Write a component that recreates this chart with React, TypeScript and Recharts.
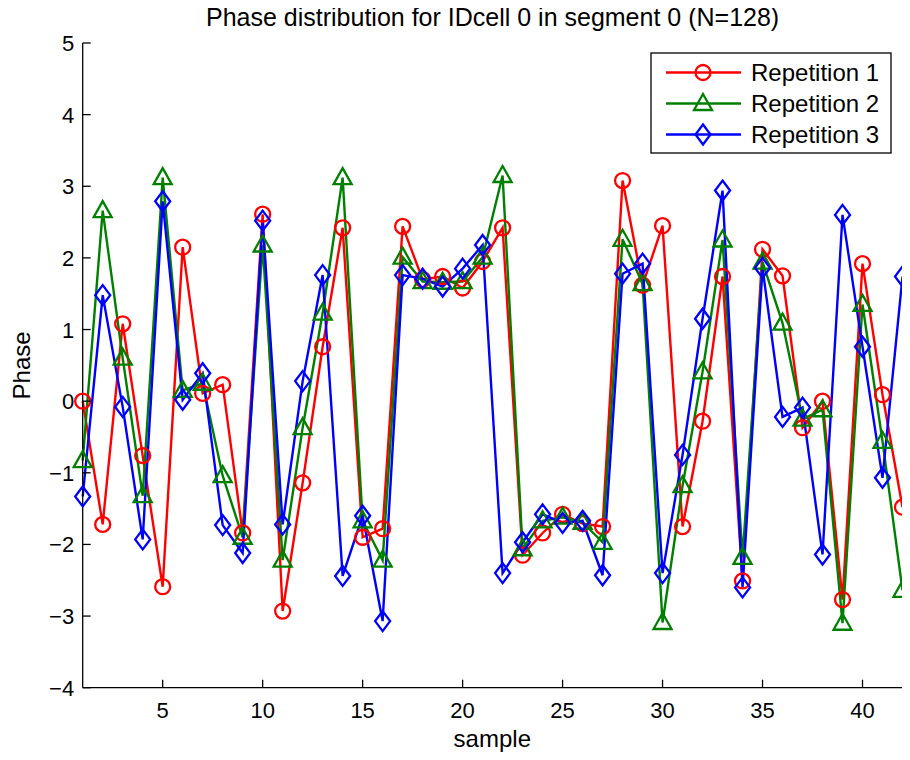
import React from 'react';
import { LineChart, Line, XAxis, YAxis, Label } from 'recharts';

const samples = [1, 2, 3, 4, 5, 6, 7, 8, 9, 10, 11, 12, 13, 14, 15, 16, 17, 18, 19, 20, 21, 22, 23, 24, 25, 26, 27, 28, 29, 30, 31, 32, 33, 34, 35, 36, 37, 38, 39, 40, 41, 42];
const repetition1 = [0.0, -1.72, 1.08, -0.76, -2.59, 2.15, 0.11, 0.23, -1.84, 2.61, -2.93, -1.14, 0.76, 2.42, -1.9, -1.78, 2.44, 1.7, 1.74, 1.58, 1.95, 2.42, -2.15, -1.84, -1.58, -1.71, -1.75, 3.08, 1.62, 2.45, -1.75, -0.28, 1.74, -2.51, 2.12, 1.75, -0.37, 0.0, -2.77, 1.92, 0.09, -1.48];
const repetition2 = [-0.83, 2.66, 0.6, -1.32, 3.12, 0.15, 0.25, -1.04, -1.9, 2.18, -2.22, -0.37, 1.23, 3.12, -1.67, -2.22, 2.01, 1.67, 1.66, 1.67, 2.01, 3.15, -2.06, -1.67, -1.62, -1.69, -1.97, 2.26, 1.64, -3.09, -1.18, 0.41, 2.25, -2.18, 1.94, 1.09, -0.25, -0.12, -3.1, 1.35, -0.56, -2.64];
const repetition3 = [-1.33, 1.48, -0.08, -1.93, 2.79, 0.02, 0.39, -1.73, -2.12, 2.52, -1.72, 0.28, 1.76, -2.44, -1.6, -3.07, 1.76, 1.71, 1.6, 1.85, 2.18, -2.4, -1.97, -1.58, -1.7, -1.67, -2.43, 1.78, 1.92, -2.4, -0.75, 1.15, 2.94, -2.6, 1.86, -0.22, -0.09, -2.14, 2.6, 0.76, -1.07, 1.74];
const seriesNames = ['Repetition 1', 'Repetition 2', 'Repetition 3'];
const seriesColors = ['#ff0000', '#008000', '#0000ff'];
const xTicks = [5, 10, 15, 20, 25, 30, 35, 40];
const yTicks = [-4, -3, -2, -1, 0, 1, 2, 3, 4, 5];
const titleText = 'Phase distribution for IDcell 0 in segment 0 (N=128)';
const xLabel = 'sample';
const yLabel = 'Phase';

const data = samples.map((s, i) => ({ sample: s, r1: repetition1[i], r2: repetition2[i], r3: repetition3[i] }));

const FONT = '"Liberation Sans", Arial, Helvetica, sans-serif';

const Marker = ({ kind, cx, cy, color }: { kind: number; cx: number; cy: number; color: string }) => {
  if (kind === 0) return <circle cx={cx} cy={cy} r={7.5} fill="none" stroke={color} strokeWidth={2.3} />;
  if (kind === 1)
    return (
      <polygon
        points={`${cx},${cy - 9.5} ${cx - 9},${cy + 6.5} ${cx + 9},${cy + 6.5}`}
        fill="none"
        stroke={color}
        strokeWidth={2.3}
      />
    );
  return (
    <polygon
      points={`${cx},${cy - 10} ${cx + 7.5},${cy} ${cx},${cy + 10} ${cx - 7.5},${cy}`}
      fill="none"
      stroke={color}
      strokeWidth={2.3}
    />
  );
};

const makeDot = (kind: number) => (p: any) => {
  if (p.cx == null || p.cy == null) return <g key={`d${kind}-${p.index}`} />;
  return (
    <g key={`d${kind}-${p.index}`}>
      <Marker kind={kind} cx={p.cx} cy={p.cy} color={seriesColors[kind]} />
    </g>
  );
};

const fmt = (v: number) => String(v).replace('-', '\u2212');

const BottomTick = (p: any) => (
  <g>
    <line x1={p.x} y1={p.y} x2={p.x} y2={p.y - 8} stroke="#000" strokeWidth={1.3} />
    <text x={p.x} y={p.y + 30} textAnchor="middle" fontSize={22} fontFamily={FONT} fill="#000">
      {fmt(p.payload.value)}
    </text>
  </g>
);
const TopTick = (p: any) => (
  <line x1={p.x} y1={p.y} x2={p.x} y2={p.y + 8} stroke="#000" strokeWidth={1.3} />
);
const LeftTick = (p: any) => (
  <g>
    <line x1={p.x} y1={p.y} x2={p.x + 8} y2={p.y} stroke="#000" strokeWidth={1.3} />
    <text x={p.x - 8.5} y={p.y + 8} textAnchor="end" fontSize={22} fontFamily={FONT} fill="#000">
      {fmt(p.payload.value)}
    </text>
  </g>
);
const RightTick = (p: any) => (
  <line x1={p.x} y1={p.y} x2={p.x - 8} y2={p.y} stroke="#000" strokeWidth={1.3} />
);

const LegendBox = () => (
  <svg width={242} height={102} style={{ position: 'absolute', left: 642, top: 44 }}>
    <rect x={1} y={1} width={240} height={100} fill="#fff" stroke="#000" strokeWidth={1.3} />
    {seriesNames.map((name, i) => {
      const y = 20.5 + i * 31;
      return (
        <g key={name}>
          <line x1={16} y1={y} x2={91} y2={y} stroke={seriesColors[i]} strokeWidth={2.4} />
          <Marker kind={i} cx={53} cy={y} color={seriesColors[i]} />
          <text x={101} y={y + 8.5} fontSize={24} fontFamily={FONT} fill="#000">
            {name}
          </text>
        </g>
      );
    })}
  </svg>
);

export default function App() {
  return (
    <div style={{ position: 'relative', width: 902, height: 744, fontFamily: FONT }}>
      <LineChart width={902} height={744} data={data} margin={{ top: 35, right: 7.5, bottom: 24.3, left: 0 }}>
        <XAxis
          dataKey="sample"
          type="number"
          domain={[1, 42]}
          ticks={xTicks}
          interval={0}
          height={40}
          tickSize={0}
          tickMargin={0}
          tickLine={false}
          axisLine={{ stroke: '#000', strokeWidth: 1.3 }}
          tick={<BottomTick />}
        >
          <Label
            content={() => (
              <text x={484.3} y={739} textAnchor="middle" fontSize={24} fontFamily={FONT} fill="#000">
                {xLabel}
              </text>
            )}
          />
        </XAxis>
        <XAxis
          xAxisId="top"
          orientation="top"
          dataKey="sample"
          type="number"
          domain={[1, 42]}
          ticks={xTicks}
          interval={0}
          height={0}
          tickSize={0}
          tickMargin={0}
          tickLine={false}
          axisLine={{ stroke: '#000', strokeWidth: 1.3 }}
          tick={<TopTick />}
        />
        <YAxis
          type="number"
          domain={[-4, 5]}
          ticks={yTicks}
          interval={0}
          width={74.7}
          tickSize={0}
          tickMargin={0}
          tickLine={false}
          axisLine={{ stroke: '#000', strokeWidth: 1.3 }}
          tick={<LeftTick />}
        >
          <Label
            content={() => (
              <text
                x={22}
                y={357.4}
                transform="rotate(-90 22 357.4)"
                textAnchor="middle"
                fontSize={24}
                fontFamily={FONT}
                fill="#000"
              >
                {yLabel}
              </text>
            )}
          />
        </YAxis>
        <YAxis
          yAxisId="right"
          orientation="right"
          type="number"
          domain={[-4, 5]}
          ticks={yTicks}
          interval={0}
          width={0}
          tickSize={0}
          tickMargin={0}
          tickLine={false}
          axisLine={{ stroke: '#000', strokeWidth: 1.3 }}
          tick={<RightTick />}
        />
        <Line dataKey="r1" name={seriesNames[0]} stroke={seriesColors[0]} strokeWidth={2.4} dot={makeDot(0)} activeDot={false} isAnimationActive={false} />
        <Line dataKey="r2" name={seriesNames[1]} stroke={seriesColors[1]} strokeWidth={2.4} dot={makeDot(1)} activeDot={false} isAnimationActive={false} />
        <Line dataKey="r3" name={seriesNames[2]} stroke={seriesColors[2]} strokeWidth={2.4} dot={makeDot(2)} activeDot={false} isAnimationActive={false} />
      </LineChart>
      <div
        style={{
          position: 'absolute',
          left: 74.7,
          width: 819.8,
          top: -3,
          textAlign: 'center',
          fontSize: 25,
          lineHeight: '25px',
          color: '#000',
          whiteSpace: 'nowrap',
        }}
      >
        {titleText}
      </div>
      <LegendBox />
    </div>
  );
}
